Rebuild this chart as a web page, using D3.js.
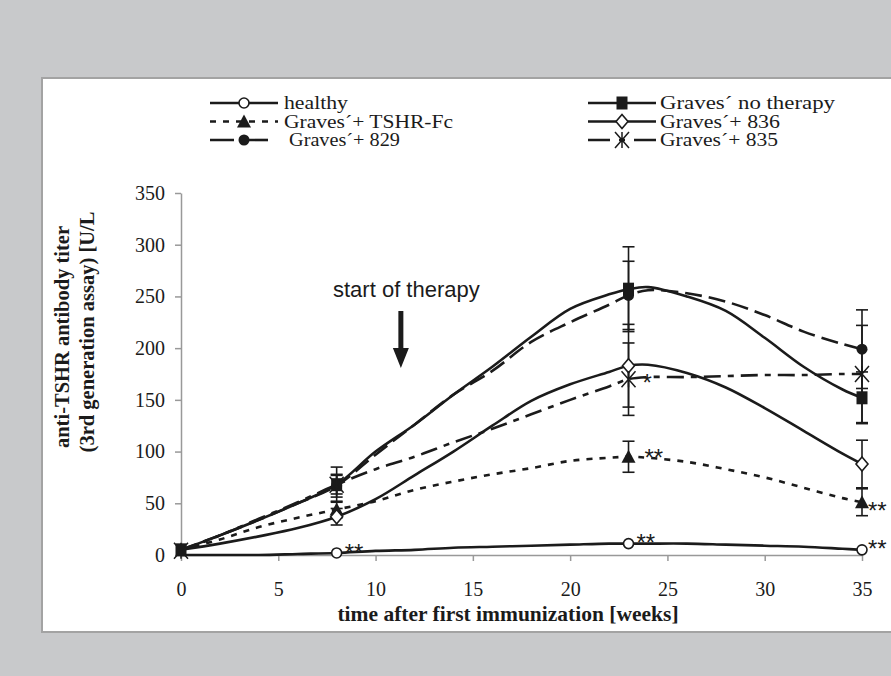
<!DOCTYPE html>
<html><head><meta charset="utf-8">
<script src="https://cdn.jsdelivr.net/npm/d3@7"></script>
<style>body{margin:0;background:#c8c9cb;} svg{display:block}</style>
</head><body><svg id="c" width="891" height="676"></svg>
<script>
// ---- data ----
const weeks = [0, 2, 4, 6, 8, 10, 12, 14, 16, 18, 20, 22, 23, 24, 26, 28, 30, 32, 34, 35];
const healthy    = [0, 0, 0, 1, 2, 4, 5, 7, 8, 9, 10, 11, 11, 11, 11, 10, 9, 8, 6, 5];
const noTherapy  = [5, 19, 34, 50, 68, 100, 126, 155, 182, 211, 238, 252, 257, 259, 250, 236, 210, 182, 160, 152];
const tshrFc     = [5, 15, 27, 36, 44, 52, 63, 71, 78, 84, 91, 94, 95, 94, 90, 83, 75, 65, 55, 51];
const g836       = [5, 11, 18, 26, 37, 54, 77, 100, 125, 149, 165, 177, 183, 184, 176, 162, 142, 120, 98, 88];
const g829       = [5, 19, 34, 50, 67, 97, 126, 155, 178, 206, 225, 242, 251, 256, 253, 245, 232, 216, 204, 199];
const g835       = [4, 19, 35, 51, 68, 83, 95, 109, 122, 136, 150, 163, 170, 172, 172, 173, 174, 174, 175, 175];

const markerWeeks = [8, 23, 35];
const errHealthy   = [0, 0, 0];
const errNoTherapy = [9, 41, 25];
const errTshrFc    = [8, 15, 13];
const err836       = [8, 40, 23];
const err829       = [11, 33, 38];
const err835       = [17, 35, 47];

const legendLabels = ["healthy", "Graves´+ TSHR-Fc", "Graves´+ 829", "Graves´ no therapy", "Graves´+ 836", "Graves´+ 835"];

const xTicks = [0, 5, 10, 15, 20, 25, 30, 35];
const yTicks = [0, 50, 100, 150, 200, 250, 300, 350];
const xTitle = "time after first immunization [weeks]";
const yTitle1 = "anti-TSHR antibody titer";
const yTitle2 = "(3rd generation assay) [U/L";
const therapyLabel = "start of therapy";
const therapyWeek = 11.3;

// significance marks: [series index, week, text]
const sigMarks = [
  [0, 8, "**"], [0, 23, "**"], [0, 35, "**"],
  [2, 23, "**"], [2, 35, "**"], [5, 23, "*"]
];

// ---- series styling ----
const series = [
  {name: legendLabels[0], values: healthy,   err: errHealthy,   dash: null,       legDash: null,       marker: "circleOpen",  zero: false},
  {name: legendLabels[3], values: noTherapy, err: errNoTherapy, dash: null,       legDash: null,       marker: "square",      zero: true},
  {name: legendLabels[1], values: tshrFc,    err: errTshrFc,    dash: "6,7",      legDash: "6,7",      marker: "triangle",    zero: false},
  {name: legendLabels[4], values: g836,      err: err836,       dash: null,       legDash: null,       marker: "diamondOpen", zero: false},
  {name: legendLabels[2], values: g829,      err: err829,       dash: "17,7",     legDash: "24,10",    marker: "circleFill",  zero: false},
  {name: legendLabels[5], values: g835,      err: err835,       dash: "17,7,6,7", legDash: "22,9,6,9", marker: "star",        zero: true}
];
const legendOrder = [0, 2, 4, 1, 3, 5];

const svg = d3.select("#c");
const ink = "#1b1b1b";
const axisGray = "#999";
const serif = "'Liberation Serif', 'Times New Roman', serif";
const sans = "'Liberation Sans', Arial, sans-serif";

svg.append("rect").attr("x", 0).attr("y", 0).attr("width", 891).attr("height", 676).attr("fill", "#c8c9cb");
svg.append("rect").attr("x", 42).attr("y", 78).attr("width", 880).attr("height", 554)
  .attr("fill", "#fff").attr("stroke", "#a3a3a3").attr("stroke-width", 2);

const x = d3.scaleLinear().domain([0, 35]).range([181, 862]);
const y = d3.scaleLinear().domain([0, 350]).range([555, 193]);

// axes
const yAxis = svg.append("g").attr("transform", `translate(${x(0)},0)`)
  .call(d3.axisLeft(y).tickValues(yTicks).tickSize(6).tickSizeOuter(0).tickPadding(10));
const xAxis = svg.append("g").attr("transform", `translate(0,${y(0)})`)
  .call(d3.axisBottom(x).tickValues(xTicks).tickSize(6).tickSizeOuter(0).tickPadding(21));
[xAxis, yAxis].forEach(g => {
  g.selectAll("path,line").attr("stroke", axisGray).attr("stroke-width", 1.5);
  g.selectAll("text").attr("font-family", serif).attr("font-size", 20).attr("fill", ink);
});

// titles
svg.append("text").attr("x", 508).attr("y", 621).attr("text-anchor", "middle")
  .attr("font-family", serif).attr("font-weight", "bold").attr("font-size", 21.5).attr("fill", ink).text(xTitle);
svg.append("text").attr("transform", "translate(69,337) rotate(-90)").attr("text-anchor", "middle")
  .attr("font-family", serif).attr("font-weight", "bold").attr("font-size", 20.5).attr("fill", ink).text(yTitle1);
svg.append("text").attr("transform", "translate(94,332) rotate(-90)").attr("text-anchor", "middle")
  .attr("font-family", serif).attr("font-weight", "bold").attr("font-size", 20.5).attr("fill", ink).text(yTitle2);

// therapy annotation
const ax = x(therapyWeek);
svg.append("text").attr("x", 333).attr("y", 297)
  .attr("font-family", sans).attr("font-size", 22).attr("fill", ink).text(therapyLabel);
svg.append("line").attr("x1", ax).attr("x2", ax).attr("y1", 311).attr("y2", 350)
  .attr("stroke", ink).attr("stroke-width", 5);
svg.append("path").attr("d", `M${ax - 8},348 L${ax + 8},348 L${ax},368 Z`).attr("fill", ink);

// lines
const line = d3.line().x(d => x(d[0])).y(d => y(d[1])).curve(d3.curveCatmullRom.alpha(0.5));
series.forEach(s => {
  svg.append("path").datum(weeks.map((w, i) => [w, s.values[i]]))
    .attr("d", line).attr("fill", "none").attr("stroke", ink).attr("stroke-width", 2.6)
    .attr("stroke-dasharray", s.dash);
});

// error bars
series.forEach(s => {
  markerWeeks.forEach((w, j) => {
    const e = s.err[j]; if (!e) return;
    const v = s.values[weeks.indexOf(w)];
    const g = svg.append("g").attr("stroke", ink).attr("stroke-width", 1.6);
    g.append("line").attr("x1", x(w)).attr("x2", x(w)).attr("y1", y(v - e)).attr("y2", y(v + e));
    [v - e, v + e].forEach(t => g.append("line").attr("x1", x(w) - 6).attr("x2", x(w) + 6).attr("y1", y(t)).attr("y2", y(t)));
  });
});

// markers
function drawMarker(g, type, cx, cy) {
  if (type === "circleOpen") g.append("circle").attr("cx", cx).attr("cy", cy).attr("r", 5).attr("fill", "#fff").attr("stroke", ink).attr("stroke-width", 1.6);
  else if (type === "circleFill") g.append("circle").attr("cx", cx).attr("cy", cy).attr("r", 5.5).attr("fill", ink);
  else if (type === "square") g.append("rect").attr("x", cx - 5.5).attr("y", cy - 6.5).attr("width", 11).attr("height", 13).attr("fill", ink);
  else if (type === "triangle") g.append("path").attr("d", `M${cx},${cy - 7} L${cx + 7},${cy + 6} L${cx - 7},${cy + 6} Z`).attr("fill", ink);
  else if (type === "diamondOpen") g.append("path").attr("d", `M${cx},${cy - 7} L${cx + 6},${cy} L${cx},${cy + 7} L${cx - 6},${cy} Z`).attr("fill", "#fff").attr("stroke", ink).attr("stroke-width", 1.6);
  else if (type === "star") {
    g.append("path").attr("d", `M${cx - 7},${cy - 8} L${cx + 7},${cy + 8} M${cx + 7},${cy - 8} L${cx - 7},${cy + 8} M${cx},${cy - 8} L${cx},${cy + 8}`)
      .attr("stroke", ink).attr("stroke-width", 1.5).attr("fill", "none");
  }
}
series.forEach(s => {
  const ws = s.zero ? [0].concat(markerWeeks) : markerWeeks;
  ws.forEach(w => drawMarker(svg, s.marker, x(w), y(s.values[weeks.indexOf(w)])));
});

// significance marks (offsets: text start dx, star-centre dy)
const sigFont = 24;
const sigOffsets = {"0-8": [8, -6], "0-23": [8, -6.5], "0-35": [6, -7], "2-23": [16, -4], "2-35": [6, 3], "5-23": [14, -2]};
sigMarks.forEach(([si, w, t]) => {
  const s = series[si];
  const o = sigOffsets[si + "-" + w];
  svg.append("text").attr("x", x(w) + o[0]).attr("y", y(s.values[weeks.indexOf(w)]) + o[1] + 0.57 * sigFont)
    .attr("font-family", sans).attr("font-size", sigFont).attr("fill", ink).text(t);
});

// legend
const legX = [210, 588], legY = [103, 121.5, 140];
const legTextX = [74, 74, 79, 72, 72, 72];
const legTextW = [64, 169, 111, 175, 120, 118];
legendOrder.forEach((si, k) => {
  const s = series[si];
  const lx = legX[Math.floor(k / 3)], ly = legY[k % 3];
  const g = svg.append("g");
  g.append("line").attr("x1", lx).attr("x2", lx + 68).attr("y1", ly).attr("y2", ly)
    .attr("stroke", ink).attr("stroke-width", 2.6).attr("stroke-dasharray", s.legDash);
  drawMarker(g, s.marker, lx + 34, ly);
  g.append("text").attr("x", lx + legTextX[k]).attr("y", ly + 6).attr("font-family", serif).attr("font-size", 18)
    .attr("textLength", legTextW[k]).attr("lengthAdjust", "spacingAndGlyphs").attr("fill", ink).text(s.name);
});
</script></body></html>
